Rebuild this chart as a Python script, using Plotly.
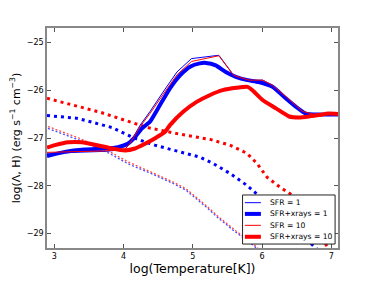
import plotly.graph_objects as go

# ---- data (log T, log rate) ----
# cooling, SFR = 1 (thin blue)
cool1_x = [2.895, 3.23, 3.73, 4.02, 4.09, 4.24, 4.38, 4.57, 4.77, 4.98, 5.10, 5.375, 5.59, 5.81, 6.01, 6.15, 6.34, 6.58, 6.73, 7.1]
cool1_y = [-27.32, -27.30, -27.28, -27.24, -27.11, -26.73, -26.45, -26.04, -25.62, -25.34, -25.32, -25.27, -25.69, -25.79, -25.79, -25.90, -26.14, -26.45, -26.50, -26.49]
# cooling, SFR+xrays = 1 (thick blue)
coolx1_x = [2.895, 3.155, 3.44, 3.73, 3.92, 4.06, 4.165, 4.265, 4.38, 4.525, 4.67, 4.815, 4.96, 5.10, 5.19, 5.33, 5.475, 5.62, 5.79, 5.95, 6.15, 6.34, 6.49, 6.63, 6.82, 7.1]
coolx1_y = [-27.38, -27.29, -27.24, -27.22, -27.19, -27.12, -26.98, -26.80, -26.66, -26.31, -25.96, -25.69, -25.51, -25.44, -25.43, -25.48, -25.62, -25.72, -25.79, -25.83, -25.93, -26.17, -26.35, -26.49, -26.51, -26.51]
# cooling, SFR = 10 (thin red)
cool10_x = [2.895, 3.23, 3.73, 4.02, 4.09, 4.24, 4.38, 4.57, 4.77, 4.98, 5.10, 5.375, 5.59, 5.81, 6.01, 6.15, 6.34, 6.58, 6.73, 7.1]
cool10_y = [-27.30, -27.29, -27.27, -27.23, -27.12, -26.76, -26.49, -26.09, -25.68, -25.40, -25.36, -25.28, -25.69, -25.79, -25.79, -25.90, -26.13, -26.44, -26.50, -26.49]
# cooling, SFR+xrays = 10 (thick red)
coolx10_x = [2.895, 3.01, 3.20, 3.40, 3.587, 3.83, 4.02, 4.165, 4.31, 4.45, 4.60, 4.67, 4.86, 5.055, 5.25, 5.43, 5.63, 5.79, 5.86, 6.01, 6.20, 6.39, 6.53, 6.675, 6.82, 6.96, 7.1]
coolx10_y = [-27.20, -27.15, -27.09, -27.09, -27.14, -27.22, -27.26, -27.22, -27.12, -27.01, -26.87, -26.73, -26.45, -26.245, -26.10, -26.00, -25.95, -25.93, -26.00, -26.21, -26.38, -26.55, -26.57, -26.55, -26.52, -26.49, -26.50]

# heating, SFR = 1 / SFR = 10 (thin dotted)
heat1_x = [2.91, 3.37, 3.78, 4.065, 4.41, 4.70, 4.90, 5.19, 5.38, 5.62, 5.87, 6.0]
heat1_y = [-26.80, -27.05, -27.31, -27.54, -27.75, -27.94, -28.09, -28.44, -28.69, -28.97, -29.24, -29.42]
heat10_x = [2.91, 3.37, 3.78, 4.065, 4.41, 4.70, 4.90, 5.19, 5.38, 5.62, 5.87, 6.0]
heat10_y = [-26.76, -27.01, -27.27, -27.50, -27.72, -27.91, -28.06, -28.41, -28.66, -28.94, -29.21, -29.39]
# heating, SFR+xrays = 1 (thick blue dotted)
heatx1_x = [2.895, 3.34, 3.83, 4.165, 4.45, 4.915, 5.10, 5.29, 5.535, 5.78, 5.90, 6.75, 6.85]
heatx1_y = [-26.53, -26.59, -26.78, -27.01, -27.15, -27.32, -27.40, -27.53, -27.74, -27.99, -28.14, -29.27, -29.40]
# heating, SFR+xrays = 10 (thick red dotted)
heatx10_x = [2.895, 3.66, 4.34, 4.81, 5.25, 5.535, 5.78, 5.925, 6.07, 6.26, 6.44, 6.93, 7.0]
heatx10_y = [-26.17, -26.46, -26.78, -26.92, -27.03, -27.15, -27.32, -27.53, -27.82, -28.03, -28.20, -29.27, -29.40]

x_ticks = [3, 4, 5, 6, 7]
y_ticks = [-29, -28, -27, -26, -25]

legend_names = ["SFR = 1", "SFR+xrays = 1", "SFR = 10", "SFR+xrays = 10"]

BLUE = "#0000ff"
RED = "#ff0000"
legend_colors = [BLUE, BLUE, RED, RED]
legend_widths = [1, 4, 1, 4]

fig = go.Figure()

# heating (dotted)
fig.add_trace(go.Scatter(x=heat1_x, y=heat1_y, mode="lines", showlegend=False,
                         line=dict(color=BLUE, width=1.3, dash="2px,2px"), opacity=0.7))
fig.add_trace(go.Scatter(x=heat10_x, y=heat10_y, mode="lines", showlegend=False,
                         line=dict(color=RED, width=1.3, dash="2px,2px"), opacity=0.7))
fig.add_trace(go.Scatter(x=heatx1_x, y=heatx1_y, mode="lines", showlegend=False,
                         line=dict(color=BLUE, width=3, dash="3px,4px")))
fig.add_trace(go.Scatter(x=heatx10_x, y=heatx10_y, mode="lines", showlegend=False,
                         line=dict(color=RED, width=3, dash="3px,4px")))

# cooling (solid)
fig.add_trace(go.Scatter(x=cool1_x, y=cool1_y, mode="lines", name=legend_names[0], showlegend=False,
                         line=dict(color=BLUE, width=1)))
fig.add_trace(go.Scatter(x=coolx1_x, y=coolx1_y, mode="lines", name=legend_names[1], showlegend=False,
                         line=dict(color=BLUE, width=4, shape="spline", smoothing=0.5)))
fig.add_trace(go.Scatter(x=cool10_x, y=cool10_y, mode="lines", name=legend_names[2], showlegend=False,
                         line=dict(color=RED, width=1)))
fig.add_trace(go.Scatter(x=coolx10_x, y=coolx10_y, mode="lines", name=legend_names[3], showlegend=False,
                         line=dict(color=RED, width=4, shape="spline", smoothing=0.5)))

# compact legend box (matplotlib style)
shapes = [dict(type="rect", xref="paper", yref="paper", x0=0.672, x1=0.990, y0=0.018, y1=0.241,
               line=dict(color="#222222", width=1), fillcolor="#ffffff", opacity=1, layer="above")]
annotations = []
legend_ys = [0.206, 0.155, 0.103, 0.051]
for name, col, w, ly in zip(legend_names, legend_colors, legend_widths, legend_ys):
    shapes.append(dict(type="line", xref="paper", yref="paper", x0=0.680, x1=0.735, y0=ly, y1=ly,
                       line=dict(color=col, width=w), layer="above"))
    annotations.append(dict(xref="paper", yref="paper", x=0.758, y=ly, text=name, showarrow=False,
                            xanchor="left", yanchor="middle", font=dict(size=7.6, color="black")))

axis_common = dict(showline=True, linecolor="#888888", linewidth=1.5, mirror="ticks",
                   ticks="inside", ticklen=4, tickcolor="#555555", tickwidth=1,
                   showgrid=False, zeroline=False, automargin=False,
                   tickfont=dict(family="DejaVu Sans", size=8, color="black"))

fig.update_layout(
    width=376, height=282,
    margin=dict(l=47, r=38, t=28, b=34, autoexpand=False),
    paper_bgcolor="white", plot_bgcolor="white",
    font=dict(family="DejaVu Sans", color="black"),
    showlegend=False,
    shapes=shapes, annotations=annotations,
    xaxis=dict(range=[2.895, 7.095], tickvals=x_ticks, ticktext=[str(v) for v in x_ticks],
               ticklabelstandoff=0,
               title=dict(text="log(Temperature[K])", font=dict(size=12.5), standoff=0),
               **axis_common),
    yaxis=dict(range=[-29.3, -24.7], tickvals=y_ticks,
               ticktext=["\u2212" + str(abs(v)) for v in y_ticks],
               title=dict(text="log(\u039b, H) (erg s<sup>\u22121</sup> cm<sup>\u22123</sup>)",
                          font=dict(size=11), standoff=4),
               **axis_common),
)

fig.write_html("out.html", config={"displayModeBar": False},
               post_script="document.body.style.margin='0';")
